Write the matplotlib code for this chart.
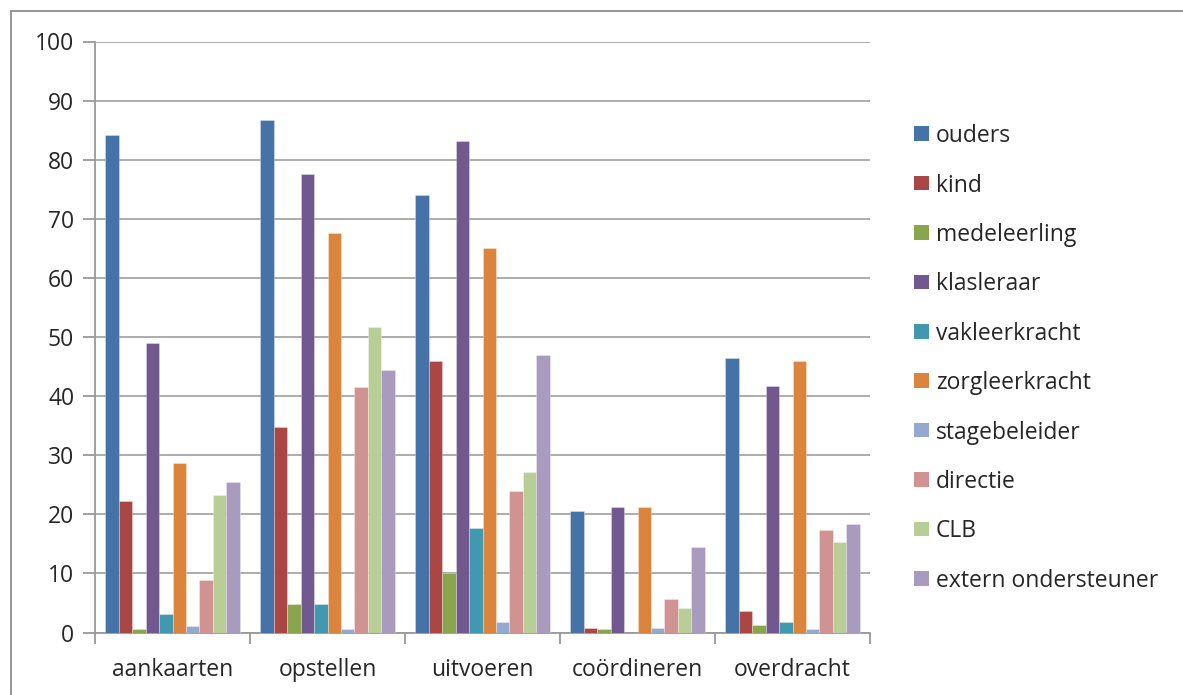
import matplotlib
matplotlib.use('Agg')
import matplotlib.pyplot as plt
import numpy as np
from matplotlib.patches import Rectangle

plt.rcParams['font.family'] = ['Open Sans', 'DejaVu Sans']

# ── Data ──────────────────────────────────────────────────────
categories = ['aankaarten', 'opstellen', 'uitvoeren', 'coördineren', 'overdracht']
series = ['ouders', 'kind', 'medeleerling', 'klasleraar', 'vakleerkracht',
          'zorgleerkracht', 'stagebeleider', 'directie', 'CLB',
          'extern ondersteuner']

ouders         = [84.2, 86.7, 74.0, 20.6, 46.5]
kind           = [22.3, 34.8, 46.0, 0.7, 3.6]
medeleerling   = [0.6, 4.8, 10.0, 0.6, 1.2]
klasleraar     = [49.0, 77.6, 83.2, 21.2, 41.7]
vakleerkracht  = [3.1, 4.8, 17.6, 0.0, 1.7]
zorgleerkracht = [28.6, 67.6, 65.1, 21.2, 45.9]
stagebeleider  = [1.1, 0.6, 1.7, 0.7, 0.6]
directie       = [8.9, 41.5, 24.0, 5.6, 17.3]
clb            = [23.3, 51.7, 27.1, 4.2, 15.3]
extern         = [25.5, 44.5, 47.0, 14.5, 18.4]

values = [ouders, kind, medeleerling, klasleraar, vakleerkracht,
          zorgleerkracht, stagebeleider, directie, clb, extern]

colors = ['#4572A7', '#AA4643', '#89A54E', '#71588F', '#4198AF',
          '#DB843D', '#93A9CF', '#D19392', '#B9CD96', '#A99BBD']

TXT = '#262626'
FS = 16.5

# ── Figure / axes ─────────────────────────────────────────────
W, H = 1183, 695
fig = plt.figure(figsize=(W / 100, H / 100), dpi=100)
fig.patch.set_facecolor('white')

x0, x1 = 95, 870
y0, y1 = 632.5, 41.5
ax = fig.add_axes([x0 / W, 1 - y0 / H, (x1 - x0) / W, (y0 - y1) / H])

# chart frame (left/top edges only show)
fig.patches.append(Rectangle((11 / W, -0.1), 1.2, 1 - 11 / H + 0.1,
                             transform=fig.transFigure, fill=False,
                             edgecolor='#8C8C8C', linewidth=1.3))

n = len(series)
bw = 0.0866
x = np.arange(len(categories))
for i, (name, vals, c) in enumerate(zip(series, values, colors)):
    offs = (i - (n - 1) / 2) * bw
    ax.bar(x + offs, vals, width=bw, color=c, label=name,
           edgecolor=(1, 1, 1, 0.35), linewidth=0.6, zorder=3)

ax.set_xlim(-0.5, len(categories) - 0.5)
ax.set_ylim(0, 100)
ax.set_yticks(np.arange(0, 101, 10))
ax.yaxis.grid(True, color='#A6A6A6', linewidth=1.3, zorder=0)
ax.set_axisbelow(True)

for s in ['top', 'right']:
    ax.spines[s].set_visible(False)
for s in ['left', 'bottom']:
    ax.spines[s].set_color('#999999')
    ax.spines[s].set_linewidth(1.3)

ax.set_xticks(np.arange(-0.5, len(categories), 1.0))
ax.set_xticklabels([])
ax.set_xticks(x, minor=True)
ax.set_xticklabels(categories, minor=True)
ax.tick_params(axis='x', which='major', length=8, width=1.3,
               color='#999999', direction='out')
ax.tick_params(axis='x', which='minor', length=0, pad=18,
               labelsize=FS, labelcolor=TXT)
ax.tick_params(axis='y', length=9, width=1.3, color='#999999',
               labelsize=FS, labelcolor=TXT, pad=6)

# ── Legend (square swatch + label per series) ─────────────────
sq = 14.5
for i, (name, c) in enumerate(zip(series, colors)):
    yc = 133.7 + i * 49.4
    fig.patches.append(Rectangle((914 / W, 1 - (yc + sq / 2) / H),
                                 sq / W, sq / H, transform=fig.transFigure,
                                 facecolor=c, edgecolor='none'))
    fig.text(936 / W, 1 - (yc + 8.5) / H, name, fontsize=FS, color=TXT,
             ha='left', va='baseline')

fig.savefig('out.png', dpi=100, facecolor='white')
